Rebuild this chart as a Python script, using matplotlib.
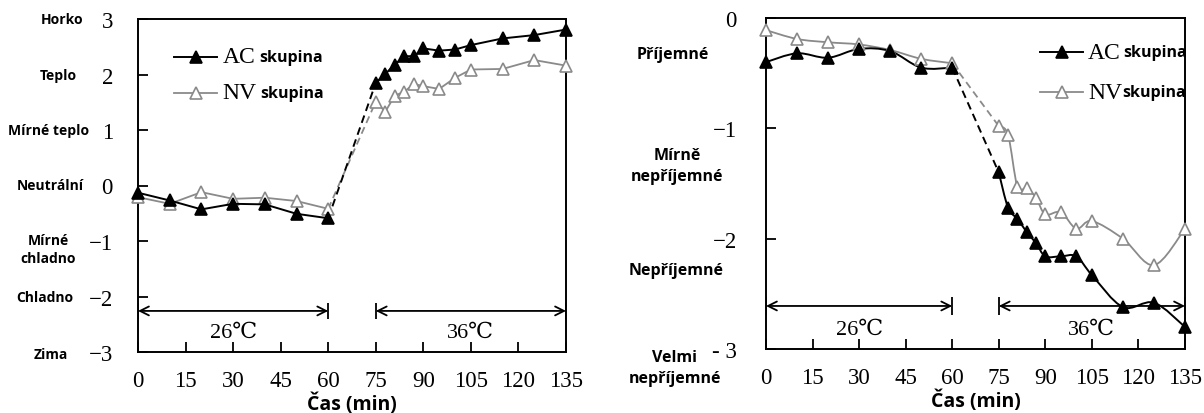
import matplotlib
matplotlib.use("Agg")
import matplotlib.pyplot as plt
import matplotlib.transforms as mtransforms
from matplotlib.path import Path
from matplotlib.patches import PathPatch

# ---- data ----
t_26 = [0, 10, 20, 30, 40, 50, 60]
t_36 = [75, 78, 81, 84, 87, 90, 95, 100, 105, 115, 125, 135]

# thermal sensation
tsv_ac_26 = [-0.13, -0.27, -0.43, -0.33, -0.34, -0.51, -0.59]
tsv_ac_36 = [1.85, 2.01, 2.18, 2.33, 2.33, 2.47, 2.43, 2.45, 2.53, 2.65, 2.71, 2.81]
tsv_nv_26 = [-0.21, -0.33, -0.12, -0.24, -0.22, -0.28, -0.42]
tsv_nv_36 = [1.51, 1.33, 1.62, 1.69, 1.83, 1.79, 1.74, 1.94, 2.09, 2.10, 2.26, 2.16]

# thermal comfort
tcv_ac_26 = [-0.40, -0.32, -0.36, -0.28, -0.30, -0.45, -0.45]
tcv_ac_36 = [-1.40, -1.72, -1.82, -1.94, -2.04, -2.16, -2.16, -2.16, -2.33, -2.62, -2.58, -2.80]
tcv_nv_26 = [-0.11, -0.19, -0.22, -0.24, -0.29, -0.37, -0.41]
tcv_nv_36 = [-0.98, -1.06, -1.53, -1.54, -1.63, -1.78, -1.76, -1.91, -1.84, -2.00, -2.24, -1.91]

x_ticks = [0, 15, 30, 45, 60, 75, 90, 105, 120, 135]
tsv_ticks = [-3, -2, -1, 0, 1, 2, 3]
tsv_ticklabels = ["\u22123", "\u22122", "\u22121", "0", "1", "2", "3"]
tcv_ticks = [-3, -2, -1, 0]
tcv_ticklabels = ["- 3", "\u22122", "\u22121", "0"]

tsv_names = ["Horko", "Teplo", "Mírné teplo", "Neutrální", "Mírné\nchladno", "Chladno", "Zima"]
tsv_name_y = [3, 2, 1, 0, -1.14, -2, -3.03]
tcv_names = ["Příjemné", "Mírně\nnepříjemné", "Nepříjemné", "Velmi\nnepříjemné"]
tcv_name_y = [-0.33, -1.34, -2.28, -3.17]

periods = [(0, 60, "26℃"), (75, 135, "36℃")]

# label centres in figure pixels (layout only)
tsv_name_px = [62, 58, 49, 50, 48, 45, 51]
tcv_name_px = [673, 677, 676, 675]

SERIF = ["Liberation Serif", "DejaVu Serif"]
SANS = ["Open Sans", "DejaVu Sans"]
AC_COL = "black"
NV_COL = "#8a8a8a"

fig = plt.figure(figsize=(12.04, 4.14), dpi=100)
ax1 = fig.add_axes([138 / 1204, 1 - 353 / 414, 428 / 1204, 333 / 414])
ax2 = fig.add_axes([766 / 1204, 1 - 350 / 414, 419 / 1204, 331 / 414])


def smooth_line(ax, xs, ys, col, lw):
    # Excel-like smoothed line: cubic Bezier pieces through the data points
    verts = [(xs[0], ys[0])]
    codes = [Path.MOVETO]
    n = len(xs)
    for i in range(n - 1):
        p0 = (xs[max(i - 1, 0)], ys[max(i - 1, 0)])
        p1 = (xs[i], ys[i])
        p2 = (xs[i + 1], ys[i + 1])
        p3 = (xs[min(i + 2, n - 1)], ys[min(i + 2, n - 1)])
        c1 = (p1[0] + (p2[0] - p0[0]) / 6, p1[1] + (p2[1] - p0[1]) / 6)
        c2 = (p2[0] - (p3[0] - p1[0]) / 6, p2[1] - (p3[1] - p1[1]) / 6)
        verts += [c1, c2, p2]
        codes += [Path.CURVE4] * 3
    ax.add_patch(PathPatch(Path(verts, codes), fill=False, edgecolor=col, lw=lw,
                           clip_on=False, zorder=2.5))


def draw_series(ax, t1, y1, t2, y2, col, mfc, lw, smooth=False):
    mk = dict(color=col, marker="^", markersize=9, markerfacecolor=mfc,
              markeredgecolor=col, markeredgewidth=1.2, clip_on=False, zorder=3)
    for t, y in ((t1, y1), (t2, y2)):
        if smooth:
            smooth_line(ax, t, y, col, lw)
            ax.plot(t, y, ls="none", **mk)
        else:
            ax.plot(t, y, lw=lw, **mk)
    ax.plot([t1[-1], t2[0]], [y1[-1], y2[0]], color=col, lw=lw, ls=(0, (4, 2.5)), zorder=2)


def legend_row(ax, x0, x1, y, col, mfc, lw, name, sep):
    ax.plot([x0, x1], [y, y], color=col, lw=lw, transform=ax.transAxes, clip_on=False)
    ax.plot([(x0 + x1) / 2], [y], marker="^", markersize=9, color=col, markerfacecolor=mfc,
            markeredgewidth=1.2, transform=ax.transAxes, clip_on=False)
    t = ax.text(x1 + 0.012, y, name, transform=ax.transAxes, family=SERIF, fontsize=17,
                va="center", ha="left")
    ax.annotate("skupina", xy=(1, 0.12), xycoords=t, xytext=(sep, 0), textcoords="offset points",
                family=SANS, fontsize=11.5, fontweight="bold", va="bottom", ha="left")


def periods_bar(ax, ybar, half, ytext):
    for a, b, lab in periods:
        ax.annotate("", xy=(a, ybar), xytext=(b, ybar),
                    arrowprops=dict(arrowstyle="<->", color="black", lw=1.3,
                                    shrinkA=0, shrinkB=0, mutation_scale=16))
        ax.vlines([a, b], ybar - half, ybar + half, color="black", lw=1.3)
        ax.text((a + b) / 2, ytext, lab, family=SERIF, fontsize=16, ha="center", va="center")


def category_labels(ax, names, ys, pxs, size):
    tr = mtransforms.blended_transform_factory(fig.transFigure, ax.transData)
    for name, y, px in zip(names, ys, pxs):
        lines = name.split("\n")
        step = size * 1.3
        for i, line in enumerate(lines):
            off = ((len(lines) - 1) / 2 - i) * step
            ax.annotate(line, xy=(px / 1204, y), xycoords=tr, xytext=(0, off),
                        textcoords="offset points", family=SANS, fontsize=size,
                        fontweight="bold", ha="center", va="center", annotation_clip=False)


def style_axes(ax, ylim, ticks, ticklabels, ypad):
    ax.set_xlim(0, 135)
    ax.set_ylim(*ylim)
    ax.set_xticks(x_ticks)
    ax.set_yticks(ticks)
    ax.set_yticklabels(ticklabels)
    ax.tick_params(direction="in", length=7, width=1.3, labelsize=16.5)
    ax.tick_params(axis="y", pad=ypad)
    ax.tick_params(axis="x", pad=13)
    for lab in ax.get_xticklabels() + ax.get_yticklabels():
        lab.set_family(SERIF)
    for s in ax.spines.values():
        s.set_linewidth(1.4)
    ax.set_xlabel("Čas (min)", family=SANS, fontsize=14, fontweight="bold", labelpad=1)


# ---- left: thermal sensation ----
style_axes(ax1, (-3, 3), tsv_ticks, tsv_ticklabels, 18)
draw_series(ax1, t_26, tsv_nv_26, t_36, tsv_nv_36, NV_COL, "white", 1.3)
draw_series(ax1, t_26, tsv_ac_26, t_36, tsv_ac_36, AC_COL, AC_COL, 1.4)
periods_bar(ax1, -2.26, 0.15, -2.64)
legend_row(ax1, 0.084, 0.185, 0.886, AC_COL, AC_COL, 1.4, "AC", 3)
legend_row(ax1, 0.084, 0.185, 0.778, NV_COL, "white", 1.3, "NV", 3)
category_labels(ax1, tsv_names, tsv_name_y, tsv_name_px, 10)

# ---- right: thermal comfort ----
style_axes(ax2, (-3, 0), tcv_ticks, tcv_ticklabels, 21)
draw_series(ax2, t_26, tcv_nv_26, t_36, tcv_nv_36, NV_COL, "white", 1.3, smooth=True)
draw_series(ax2, t_26, tcv_ac_26, t_36, tcv_ac_36, AC_COL, AC_COL, 1.4, smooth=True)
periods_bar(ax2, -2.61, 0.08, -2.82)
legend_row(ax2, 0.654, 0.757, 0.897, AC_COL, AC_COL, 1.4, "AC", 2)
legend_row(ax2, 0.654, 0.757, 0.776, NV_COL, "white", 1.3, "NV", 0)
category_labels(ax2, tcv_names, tcv_name_y, tcv_name_px, 11.5)

fig.savefig("out.png", dpi=100)
